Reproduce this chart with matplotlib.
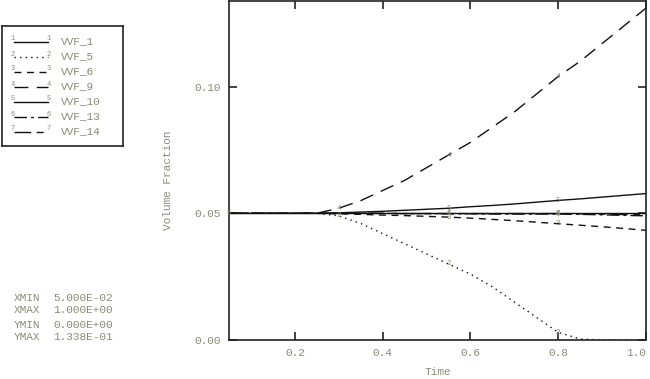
import numpy as np
import matplotlib
matplotlib.use("Agg")
import matplotlib.pyplot as plt

# --------------------------------------------------------------------------- #
time = [0.05, 0.10, 0.15, 0.20, 0.25, 0.30, 0.35, 0.40, 0.45, 0.50,
        0.55, 0.60, 0.65, 0.70, 0.75, 0.80, 0.85, 0.90, 0.95, 1.00]

vvf_1 = [0.05] * 20
vvf_5 = [0.05] * 5 + [0.049, 0.046, 0.042, 0.038, 0.034, 0.030, 0.026, 0.021,
                      0.015, 0.009, 0.003, 0.0004, 0.0, 0.0, 0.0]
vvf_6 = [0.05] * 5 + [0.0498, 0.0496, 0.0493, 0.0491, 0.0488, 0.0485, 0.0481,
                      0.0476, 0.0471, 0.0465, 0.0459, 0.0453, 0.0447, 0.0440,
                      0.0433]
vvf_9 = [0.05] * 5 + [0.052, 0.055, 0.059, 0.063, 0.068, 0.073, 0.078, 0.084,
                      0.090, 0.097, 0.104, 0.110, 0.117, 0.124, 0.131]
vvf_10 = [0.05] * 5 + [0.0502, 0.0505, 0.0508, 0.0512, 0.0516, 0.0520, 0.0526,
                       0.0531, 0.0537, 0.0544, 0.0551, 0.0557, 0.0564, 0.0571,
                       0.0578]
vvf_13 = [0.05] * 5 + [0.05, 0.05, 0.04995, 0.0499, 0.0499, 0.0498, 0.0498,
                       0.0497, 0.0497, 0.0497, 0.0497, 0.0496, 0.0494, 0.0492,
                       0.0490]
vvf_14 = [0.05] * 5 + [0.05, 0.05, 0.05, 0.0499, 0.0499, 0.0499, 0.0499,
                       0.0499, 0.0499, 0.0499, 0.0499, 0.0498, 0.0497, 0.0495,
                       0.0494]

names = ["VVF_1", "VVF_5", "VVF_6", "VVF_9", "VVF_10", "VVF_13", "VVF_14"]
series = [vvf_1, vvf_5, vvf_6, vvf_9, vvf_10, vvf_13, vvf_14]
styles = ["-", (0, (1, 3)), (0, (5, 4)), (0, (10, 6)), "-",
          (0, (9, 3, 2, 3)), (0, (12, 4, 5, 4))]

# where the curve numbers sit (index into time), per curve
label_idx = [[10, 15], [5, 10, 15], [10, 15], [5, 10, 15], [0, 10, 15],
             [10, 15], [15]]

xmin, xmax = 0.05, 1.0
ymin, ymax = 0.0, 0.1338

txt_color = "#8a8a78"
line_color = "#111111"
font = "Liberation Mono"

# --------------------------------------------------------------------------- #
fig = plt.figure(figsize=(6.5, 3.79), dpi=100)
ax = fig.add_axes([229 / 650, 39 / 379, 417 / 650, 339 / 379])

for k, (y, ls) in enumerate(zip(series, styles)):
    ax.plot(time, y, color=line_color, linestyle=ls, linewidth=1.0)
    for i in label_idx[k]:
        ax.text(time[i], y[i], str(k + 1), fontsize=5.5, color=txt_color,
                family=font, ha="center", va="center")

ax.set_xlim(xmin, xmax)
ax.set_ylim(ymin, ymax)
ax.set_xticks([0.2, 0.4, 0.6, 0.8, 1.0])
ax.set_xticklabels(["0.2", "0.4", "0.6", "0.8", "1.0"])
ax.set_yticks([0.0, 0.05, 0.10])
ax.set_yticklabels(["0.00", "0.05", "0.10"])
ax.tick_params(direction="in", length=6, width=1.2, top=True, right=True,
               labelsize=8, labelcolor=txt_color, color="#222222", pad=6)
for lab in ax.get_xticklabels() + ax.get_yticklabels():
    lab.set_family(font)
ax.get_xticklabels()[-1].set_horizontalalignment("right")

for sp in ax.spines.values():
    sp.set_linewidth(1.2)
    sp.set_color("#222222")

ax.set_xlabel("Time", fontsize=8, color=txt_color, family=font, labelpad=6)
ax.set_ylabel("Volume Fraction", fontsize=8, color=txt_color, family=font)
ax.yaxis.set_label_coords(-0.135, 0.47)

# legend box drawn by hand, like the original plotter output
lax = fig.add_axes([2 / 650, 1 - 146 / 379, 121 / 650, 120 / 379])
lax.set_xlim(0, 121)
lax.set_ylim(120, 0)
lax.set_xticks([])
lax.set_yticks([])
for sp in lax.spines.values():
    sp.set_linewidth(1.2)
    sp.set_color("#222222")

for k, (name, ls) in enumerate(zip(names, styles)):
    yy = 16 + 15 * k
    lax.plot([12, 46], [yy, yy], color=line_color, linestyle=ls, linewidth=1.0)
    lax.text(11, yy - 3, str(k + 1), fontsize=5, color=txt_color, family=font,
             ha="center", va="center")
    lax.text(47, yy - 3, str(k + 1), fontsize=5, color=txt_color, family=font,
             ha="center", va="center")
    lax.text(59, yy - 1, name, fontsize=8, color=txt_color, family=font,
             ha="left", va="center")

rows = [("XMIN", "5.000E-02", 298), ("XMAX", "1.000E+00", 310),
        ("YMIN", "0.000E+00", 325), ("YMAX", "1.338E-01", 337)]
for key, val, py in rows:
    fig.text(14 / 650, 1 - py / 379, key, fontsize=8, color=txt_color,
             family=font, va="center")
    fig.text(53 / 650, 1 - py / 379, val, fontsize=8, color=txt_color,
             family=font, va="center")

plt.savefig("out.png", dpi=100)
